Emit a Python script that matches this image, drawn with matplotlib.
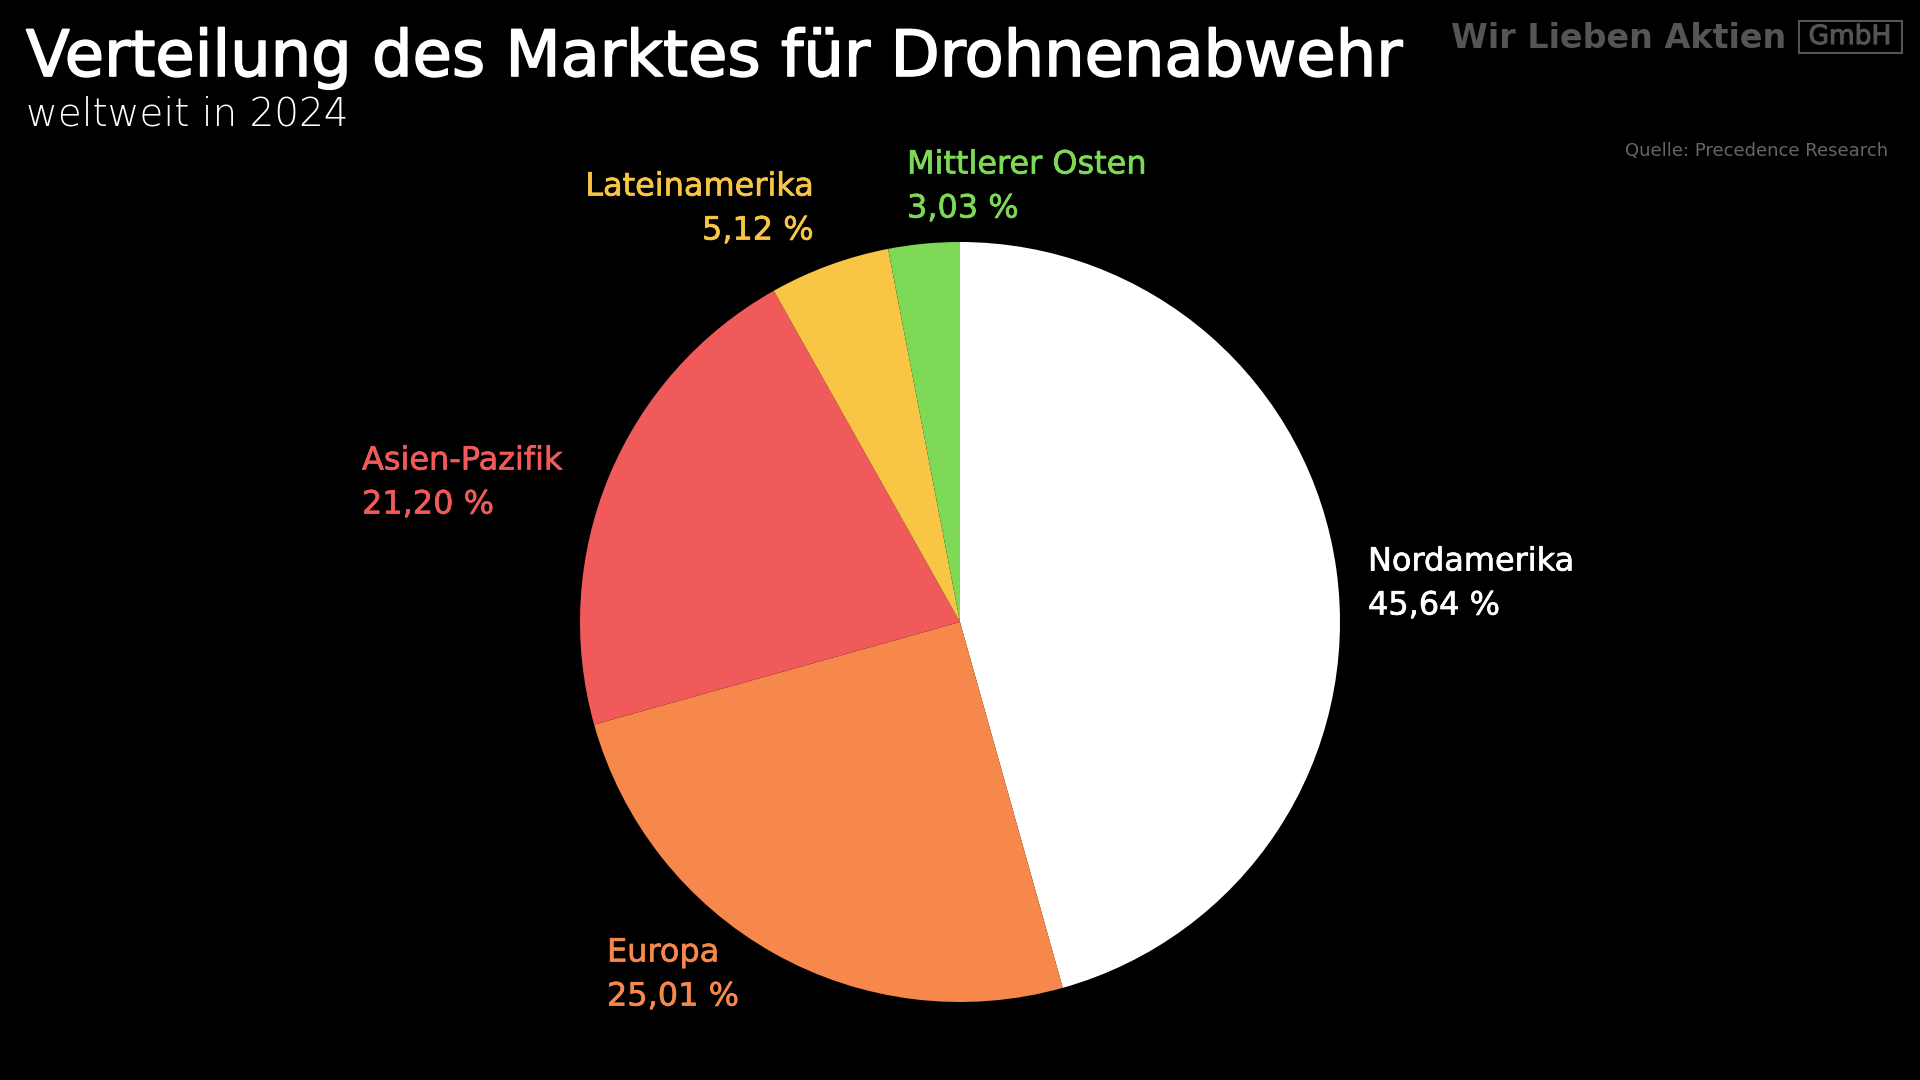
import matplotlib
matplotlib.use("Agg")
import matplotlib.pyplot as plt
import matplotlib.patheffects as pe
from matplotlib.patches import Rectangle

plt.rcParams['font.family'] = ['DejaVu Sans']

regions = ['Nordamerika', 'Europa', 'Asien-Pazifik', 'Lateinamerika', 'Mittlerer Osten']
shares = [45.64, 25.01, 21.20, 5.12, 3.03]
share_labels = ['45,64 %', '25,01 %', '21,20 %', '5,12 %', '3,03 %']
colors = ['#ffffff', '#f5884a', '#f15a5a', '#f9c544', '#7ed957']

W, H = 1920, 1080
fig = plt.figure(figsize=(W / 100, H / 100), dpi=100, facecolor='black')

def px(x, y):
    # pixel coords (from top-left) -> figure fraction
    return x / W, 1 - y / H

def thick(c, w=1.0):
    return [pe.withStroke(linewidth=w, foreground=c)]

# pie: centre (960, 622), radius 380 px
cx, cy, r = 960, 622, 380
ax = fig.add_axes([(cx - r) / W, (H - cy - r) / H, 2 * r / W, 2 * r / H])
ax.pie(shares, colors=colors, startangle=90, counterclock=False,
       wedgeprops=dict(linewidth=0))
ax.set_xlim(-1, 1)
ax.set_ylim(-1, 1)
ax.set_aspect('equal')
ax.axis('off')

# title and subtitle
fig.text(*px(26, 58), 'Verteilung des Marktes für Drohnenabwehr', color='white',
         fontsize=46, va='center', ha='left', path_effects=thick('white', 1.2))
fig.text(*px(26, 115), 'weltweit in 2024', color='white', fontsize=28,
         fontweight='light', va='center', ha='left')

# logo
fig.text(*px(1451, 38), 'Wir Lieben Aktien', color='#555555', fontsize=24,
         fontweight='bold', va='center', ha='left')
fig.patches.append(Rectangle(px(1799, 53), 103 / W, 32 / H, transform=fig.transFigure,
                             fill=False, edgecolor='#555555', linewidth=1.5))
fig.text(*px(1850, 37), 'GmbH', color='#555555', fontsize=19,
         va='center', ha='center', path_effects=thick('#555555', 0.8))

fig.text(*px(1888, 151), 'Quelle: Precedence Research', color='#666666', fontsize=13,
         va='center', ha='right')

# labels: (x, y of name line, ha)
label_pos = [(1368, 562, 'left'), (607, 953, 'left'), (362, 461, 'left'),
             (814, 187, 'right'), (907, 165, 'left')]
for name, val, col, (x, y, ha) in zip(regions, share_labels, colors, label_pos):
    fig.text(*px(x, y), name, color=col, fontsize=23, va='center', ha=ha,
             path_effects=thick(col, 0.5))
    fig.text(*px(x, y + 44), val, color=col, fontsize=23, va='center', ha=ha,
             path_effects=thick(col, 0.5))

fig.savefig('out.png', dpi=100, facecolor='black')
